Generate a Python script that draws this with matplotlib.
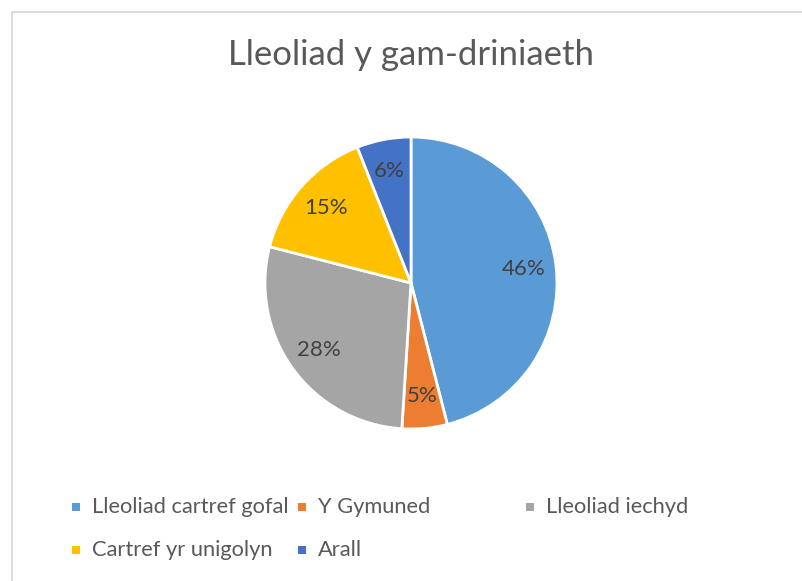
import matplotlib
matplotlib.use("Agg")
import matplotlib.pyplot as plt
from matplotlib.patches import Rectangle

title = "Lleoliad y gam-driniaeth"
categories = ["Lleoliad cartref gofal", "Y Gymuned", "Lleoliad iechyd",
              "Cartref yr unigolyn", "Arall"]
values = [46, 5, 28, 15, 6]
colors = ["#5B9BD5", "#ED7D31", "#A5A5A5", "#FFC000", "#4472C4"]

plt.rcParams['font.family'] = ['Lato', 'DejaVu Sans']

W, H = 803, 581
fig = plt.figure(figsize=(W / 100, H / 100), dpi=100)
fig.patch.set_facecolor("white")

# chart frame
fig.patches.append(Rectangle((12 / W, -0.1), 1.2, (H - 12) / H + 0.1,
                             transform=fig.transFigure, fill=False,
                             edgecolor="#D9D9D9", linewidth=1.3))

cx, cy, r = 411, 581 - 283, 146
ax = fig.add_axes([(cx - r) / W, (cy - r) / H, 2 * r / W, 2 * r / H])
wedges, texts, autotexts = ax.pie(
    values, colors=colors, startangle=90, counterclock=False,
    autopct=lambda p: f"{p:.0f}%", pctdistance=0.78, radius=1,
    wedgeprops=dict(edgecolor="white", linewidth=2.0),
    textprops=dict(color="#404040", fontsize=16))
ax.set_xlim(-1, 1)
ax.set_ylim(-1, 1)
ax.set_aspect("equal")
ax.axis("off")

fig.text(411 / W, 1 - 55 / H, title, ha="center", va="center",
         fontsize=25, color="#595959")

# legend laid out in a 3-column grid
col_x = [76, 302, 530]
row_y = [507, 550]
for i, (lab, col) in enumerate(zip(categories, colors)):
    r_i, c_i = divmod(i, 3)
    x, y = col_x[c_i], row_y[r_i]
    fig.patches.append(Rectangle(((x - 4) / W, 1 - (y + 4) / H), 8 / W, 8 / H,
                                 transform=fig.transFigure, facecolor=col,
                                 edgecolor="none"))
    fig.text((x + 16) / W, 1 - y / H, lab, ha="left", va="center",
             fontsize=15.75, color="#595959")

fig.savefig("out.png", dpi=100)
